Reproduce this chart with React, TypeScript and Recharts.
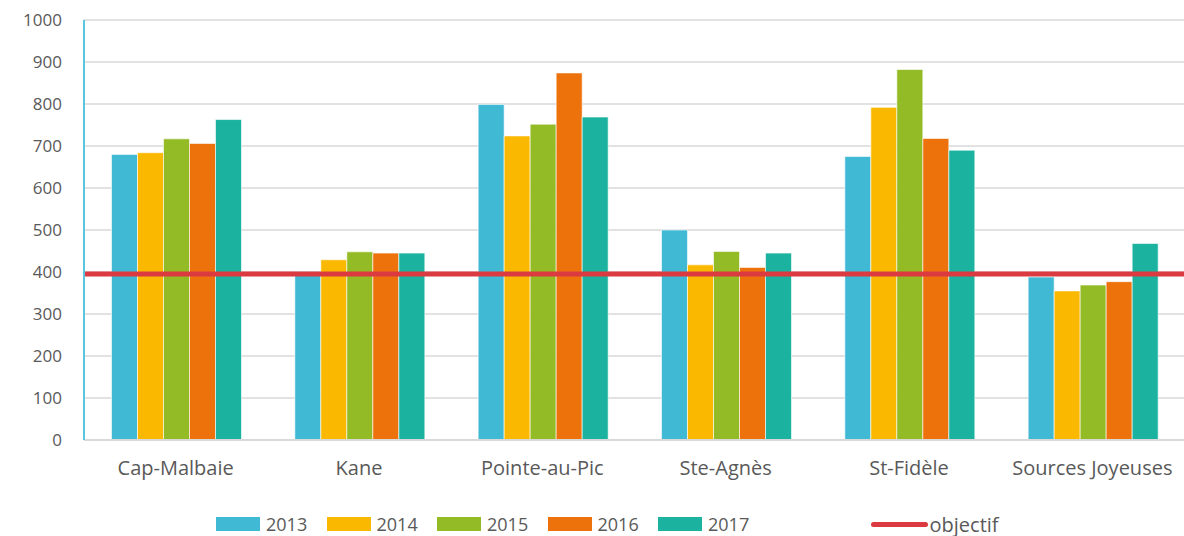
import * as React from "react";
import {
  BarChart,
  Bar,
  XAxis,
  YAxis,
  CartesianGrid,
  Legend,
  ReferenceLine,
} from "recharts";

const sites = [
  "Cap-Malbaie",
  "Kane",
  "Pointe-au-Pic",
  "Ste-Agnès",
  "St-Fidèle",
  "Sources Joyeuses",
];

const years = ["2013", "2014", "2015", "2016", "2017"];

const v2013 = [680, 401, 799, 500, 675, 388];
const v2014 = [684, 429, 724, 417, 792, 355];
const v2015 = [717, 448, 752, 449, 882, 369];
const v2016 = [706, 445, 874, 411, 718, 377];
const v2017 = [763, 445, 769, 445, 690, 468];

const objectif = 395;
const yTicks = [0, 100, 200, 300, 400, 500, 600, 700, 800, 900, 1000];

const COLORS = ["#40B9D4", "#FBB800", "#93BB26", "#EE720B", "#1BB39F"];
const OBJ_COLOR = "#DA3A40";
const TEXT = "#595959";
const FONT = "'Open Sans', sans-serif";

const seriesValues = [v2013, v2014, v2015, v2016, v2017];

const data = sites.map((site, i) => {
  const row: Record<string, string | number> = { site };
  years.forEach((y, k) => {
    row[y] = seriesValues[k][i];
  });
  return row;
});

function renderLegend() {
  return (
    <div
      style={{
        height: 46,
        display: "flex",
        alignItems: "center",
        paddingLeft: 216,
        paddingTop: 22,
        boxSizing: "border-box",
        fontFamily: FONT,
        fontSize: 18,
        color: TEXT,
      }}
    >
      {years.map((y, k) => (
        <div
          key={y}
          style={{ display: "flex", alignItems: "center", width: 110.5 }}
        >
          <span
            style={{
              display: "inline-block",
              width: 44,
              height: 14,
              background: COLORS[k],
              marginRight: 6,
            }}
          />
          <span>{y}</span>
        </div>
      ))}
      <div style={{ display: "flex", alignItems: "center", marginLeft: 102 }}>
        <span
          style={{
            display: "inline-block",
            width: 57,
            height: 5,
            borderRadius: 3,
            background: OBJ_COLOR,
            marginRight: 2,
          }}
        />
        <span style={{ fontSize: 20 }}>objectif</span>
      </div>
    </div>
  );
}

export default function App() {
  return (
    <div
      style={{
        position: "absolute",
        left: 0,
        top: 0,
        width: 1184,
        height: 536,
        background: "#fff",
      }}
    >
      <BarChart
        width={1184}
        height={536}
        data={data}
        margin={{ top: 20, right: 0, left: 0, bottom: 0 }}
        barCategoryGap="15%"
        barGap={0}
      >
        <CartesianGrid
          vertical={false}
          stroke="#D9D9D9"
          strokeWidth={1.5}
        />
        <XAxis
          dataKey="site"
          height={50}
          tickLine={false}
          axisLine={{ stroke: "#D9D9D9", strokeWidth: 2 }}
          tick={{ fontSize: 20, fill: TEXT, fontFamily: FONT }}
          tickMargin={15}
          interval={0}
        />
        <YAxis
          width={84}
          domain={[0, 1000]}
          ticks={yTicks}
          tickLine={false}
          tickSize={0}
          tickMargin={22}
          axisLine={{ stroke: "#5BC5DE", strokeWidth: 2 }}
          tick={{ fontSize: 17, fill: TEXT, fontFamily: FONT }}
        />
        {years.map((y, k) => (
          <Bar
            key={y}
            dataKey={y}
            fill={COLORS[k]}
            stroke="#ffffff"
            strokeOpacity={0.6}
            strokeWidth={1}
            isAnimationActive={false}
          />
        ))}
        <ReferenceLine
          y={objectif}
          stroke={OBJ_COLOR}
          strokeWidth={5}
          ifOverflow="extendDomain"
        />
        <Legend verticalAlign="bottom" content={renderLegend} />
      </BarChart>
    </div>
  );
}
